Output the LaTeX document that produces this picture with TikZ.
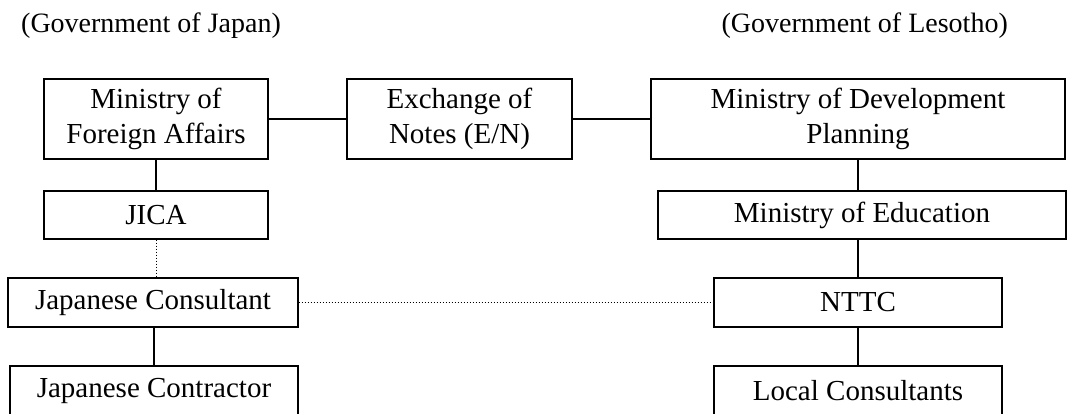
\documentclass[tikz,border=0pt]{standalone}
\usepackage{fontspec}
\setmainfont{Liberation Serif}
\tikzset{
  box/.style={draw, line width=1.2pt, inner sep=0pt, align=center,
    font=\fontsize{29}{35}\selectfont},
  head/.style={inner sep=0pt, font=\fontsize{28}{34}\selectfont}
}
\begin{document}
\begin{tikzpicture}[x=1pt, y=-1pt]
      \useasboundingbox (0,0) rectangle (1067,414);
      \node[head, anchor=base west] (gj) at (21,33) {(Government of Japan)};
      \node[head, anchor=base east] (gl) at (1008,33) {(Government of Lesotho)};
      \draw
        (156,119) node[box, minimum width=224pt, minimum height=80pt] (mofa){Ministry of\\Foreign Affairs}
        (459.5,119) node[box, minimum width=225pt, minimum height=80pt] (en){Exchange of\\Notes (E/N)}
        (858,119) node[box, minimum width=414pt, minimum height=80pt] (modp){Ministry of Development\\Planning}
        (862,215) node[box, minimum width=408pt, minimum height=48pt] (moe){Ministry of Education}
        (156,215) node[box, minimum width=224pt, minimum height=48pt] (jica){JICA}
        (153,302.5) node[box, minimum width=290pt, minimum height=49pt] (jcons){Japanese Consultant}
        (858,302.5) node[box, minimum width=288pt, minimum height=49pt] (nttc){NTTC}
        (154,391) node[box, minimum width=288pt, minimum height=50pt] (jcontr){Japanese Contractor}
        (858,391) node[box, minimum width=288pt, minimum height=50pt] (lcons){Local Consultants};
      \begin{scope}[line width=1.2pt]
        \draw (mofa) to (en);
        \draw (en) to (modp);
        \draw (mofa.south) to (jica.north);
        \draw (modp.south) to (modp.south |- moe.north);
        \draw (nttc.north |- moe.south) to (nttc.north);
        \draw (nttc) to (lcons);
        \draw (jcontr.north) to (jcontr.north |- jcons.south);
      \end{scope}
      \begin{scope}[line width=1pt, dotted]
        \draw (jica.south) to (jica.south |- jcons.north);
        \draw (jcons) to (nttc);
      \end{scope}
    \end{tikzpicture}
\end{document}
